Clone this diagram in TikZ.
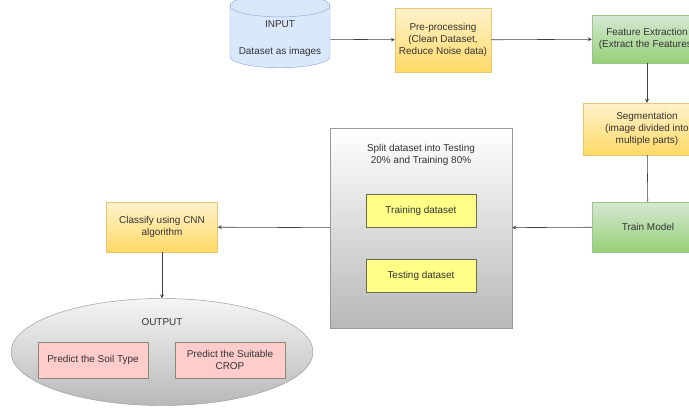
\documentclass[tikz,border=0pt]{standalone}
\usepackage{fontspec}
\setmainfont{Liberation Sans}
\usetikzlibrary{shapes.geometric}
\definecolor{ylwtop}{HTML}{FFF2CC}
\definecolor{ylwbot}{HTML}{FFD966}
\definecolor{ylwline}{HTML}{E6C86E}
\definecolor{grntop}{HTML}{D5E8D4}
\definecolor{grnbot}{HTML}{97D077}
\definecolor{grnline}{HTML}{9CC48A}
\definecolor{blufill}{HTML}{DAE8FC}
\definecolor{bluline}{HTML}{8FAAD6}
\definecolor{setfill}{HTML}{FFFF88}
\definecolor{pinkfill}{HTML}{FFCCCC}
\definecolor{boxline}{HTML}{6B6B52}
\definecolor{greyline}{HTML}{9A9A9A}
\definecolor{greybot}{HTML}{B8B8B8}
\begin{document}
\begin{tikzpicture}[x=0.03cm,y=-0.03cm,
    every node/.style={font=\fontsize{8.5}{10}\selectfont, align=center, text=black!80},
    yellowbox/.style={rectangle, draw=ylwline, top color=ylwtop, bottom color=ylwbot},
    greenbox/.style={rectangle, draw=grnline, top color=grntop, bottom color=grnbot},
    setbox/.style={rectangle, draw=boxline, fill=setfill, minimum width=3.3cm, minimum height=1cm},
    predbox/.style={rectangle, draw=boxline!80, fill=pinkfill, minimum width=3.3cm, minimum height=1.07cm},
    link/.style={draw=black!75, line width=0.5pt, -stealth}]
  \clip (0,0) rectangle (689,407);
  \fill[white] (0,0) rectangle (689,407);
  %input and first row
  \node[cylinder, shape border rotate=90, aspect=0.25, draw=bluline, fill=blufill,
        minimum width=3cm, minimum height=1.74cm] (input) at (280,39)
        {INPUT\\[13pt]Dataset as images};
  \node[yellowbox, minimum width=2.43cm, minimum height=1.92cm] (pre) at (443,40)
        {Pre-processing\\(Clean Dataset,\\Reduce Noise data)};
  \node[greenbox, minimum width=3.3cm, minimum height=1.44cm] (feat) at (647,39)
        {Feature Extraction\\(Extract the Features)};
  \node[yellowbox, minimum width=3.84cm, minimum height=1.56cm] (seg) at (647,129)
        {Segmentation\\(image divided into\\multiple parts)};
  \node[greenbox, minimum width=3.36cm, minimum height=1.5cm] (train) at (648,227) {Train Model};
  %split box
  \node[rectangle, draw=greyline, top color=white, bottom color=greybot,
        minimum width=5.46cm, minimum height=6cm] (split) at (421,228) {};
  \node (splittitle) at (421,155) {Split dataset into Testing\\20\% and Training 80\%};
  \node[setbox] (trainset) at (421,211) {Training dataset};
  \node[setbox] (testset) at (421,276) {Testing dataset};
  %classify and output
  \node[yellowbox, minimum width=3.33cm, minimum height=1.5cm] (classify) at (162,227)
        {Classify using CNN\\algorithm};
  \node[ellipse, draw=greyline, top color=black!4, bottom color=greybot,
        minimum width=9.06cm, minimum height=3.21cm] (output) at (162,352) {};
  \node (outtitle) at (162,322) {OUTPUT};
  \node[predbox] (soil) at (93,360) {Predict the Soil Type};
  \node[predbox] (crop) at (230,360) {Predict the Suitable\\CROP};
  %arrows
  \draw[link] (input) -- (pre);
  \draw[link] (pre) -- (feat);
  \draw[link] (feat) -- (seg);
  \draw[draw=black!75, line width=0.5pt] (seg) -- (train);
  \draw[link] (train) -- (split);
  \draw[link] (split) -- (classify);
  \draw[link] (classify) -- (output);
\end{tikzpicture}
\end{document}
